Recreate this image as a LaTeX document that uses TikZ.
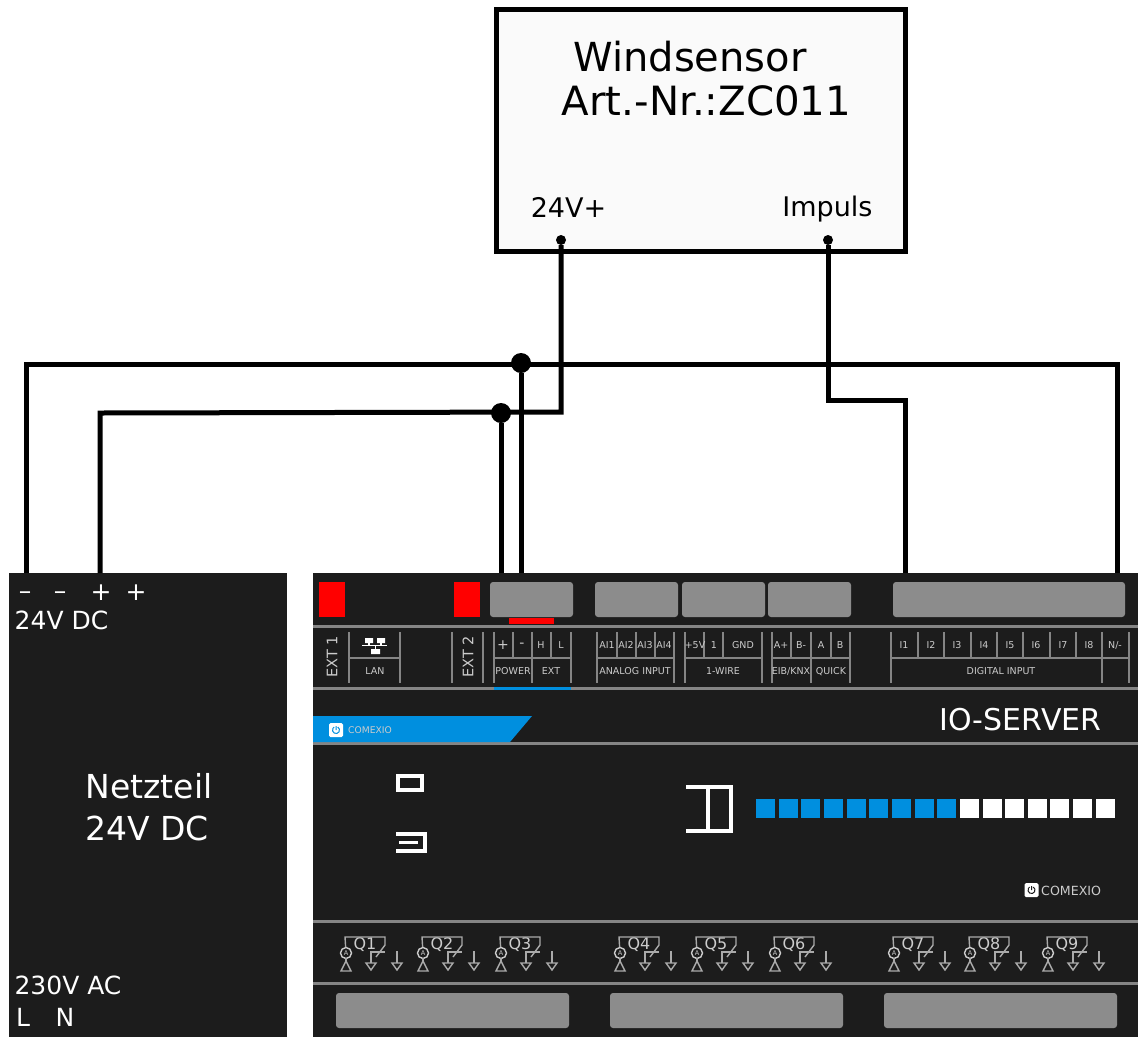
\documentclass[tikz,border=0pt]{standalone}
\usepackage{xcolor}
\usepackage{fontspec}
\setmainfont{DejaVu Sans}
\usetikzlibrary{positioning}
\usetikzlibrary{calc}
\definecolor{housing}{HTML}{1C1C1C}
\definecolor{slot}{HTML}{8C8C8C}
\definecolor{rule}{HTML}{858585}
\definecolor{ledblue}{HTML}{008FDF}
\definecolor{labelgrey}{HTML}{CCCCCC}
\tikzset{wire/.style={line width=5pt,black},
  joint/.style={circle,fill=black,inner sep=0pt,minimum size=20pt},
  pin/.style={circle,fill=black,inner sep=0pt,minimum size=10pt},
  housingbox/.style={fill=housing,draw=none},
  plug/.style={fill=slot,rounded corners=3pt},
  redblock/.style={fill=red},
  sep/.style={rule,line width=3pt},
  tick/.style={rule,line width=2pt},
  icon/.style={white,line width=4pt},
  qline/.style={rule!70!white,line width=1.4pt},
  big/.style={white,inner sep=0pt,font=\fontsize{#1}{#1}\selectfont},
  sensortext/.style={black,inner sep=0pt,font=\fontsize{#1}{#1}\selectfont},
  lbl/.style={labelgrey,inner sep=0pt,font=\fontsize{#1}{#1}\selectfont},
  lbl/.default=9.5}

\begin{document}
\begin{tikzpicture}[x=1pt,y=-1pt]
  \useasboundingbox (0,0) rectangle (1138,1037);

  % housings
  \fill[housingbox] (9,573) rectangle (287,1037);
  \fill[housingbox] (313,573) rectangle (1138,1037);

  % sensor
  \node[draw=black,line width=5pt,fill=black!2,inner sep=0pt,minimum width=409pt,minimum height=242pt] (sensor) at (700.5,130) {};
  \node[sensortext=40] (sname) at (690,57) {Windsensor};
  \node[sensortext=40.3] (sart) at (706.5,101) {Art.-Nr.:ZC011};
  \node[sensortext=27] (s24) at (568.5,207) {24V+};
  \node[sensortext=27] (simp) at (827.5,209) {Impuls};
  \node[pin] (pinplus) at (561,240) {};
  \node[pin] (pinimp) at (828,240) {};

  % power supply
  \foreach \x/\sign/\y/\name in {25/--/596/pa,60/--/596/pb,101/+/593/pc,136/+/593/pd} {
    \node[big=25] (\name) at (\x,\y) {\sign};
  }
  \node[big=25] (psuout) at (61.5,620) {24V DC};
  \node[big=33] (psua) at (149,786) {Netzteil};
  \node[big=33] (psub) at (147,828) {24V DC};
  \node[big=25] (psuin) at (68,985) {230V AC};
  \node[big=25] (psul) at (23,1017) {L};
  \node[big=25] (psun) at (65,1017) {N};

  % plugs along the top and bottom edges
  \fill[redblock] (319,582) rectangle (345,617);
  \fill[redblock] (454,582) rectangle (480,617);
  \fill[redblock] (509,618) rectangle (554,624);
  \foreach \xa/\xb in {490/573,595/678,682/765,768/851,893/1125} {
    \fill[plug] (\xa,582) rectangle (\xb,617);
  }
  \foreach \xa/\xb in {336/569,610/843,884/1117} {
    \fill[plug] (\xa,993) rectangle (\xb,1028);
  }

  % rules
  \foreach \y in {626,688,743,921,983} {
    \draw[sep] (313,\y) -- (1138,\y);
  }
  \draw[ledblue,line width=3pt] (494,688) -- (571,688);

  % terminal strip
  \foreach \x in {349,400,452,483,494,532,571,597,674,685,762,772,811,850,891,1102,1129} {
    \draw[tick] (\x,632) -- (\x,683);
  }
  \foreach \x in {513,551,617,636,655,704,723,791,831,918,944,971,997,1023,1050,1076} {
    \draw[tick] (\x,632) -- (\x,658);
  }
  \foreach \xa/\xb in {349/400,494/571,597/674,685/762,772/850,891/1129} {
    \draw[tick] (\xa,658) -- (\xb,658);
  }
  \node[lbl=14.5,rotate=90] (extone) at (332,657) {EXT 1};
  \node[lbl=14.5,rotate=90] (exttwo) at (468,657) {EXT 2};
  \node[lbl=14] (topplus) at (503,645) {+};
  \node[lbl=14] (topminus) at (522,645) {-};
  \foreach \x/\txt in {541/H,561/L,607/AI1,626/AI2,645/AI3,664/AI4,695/+5V,714/1,743/GND,781/A+,801/B-,821/A,840/B,
      904/I1,931/I2,957/I3,984/I4,1010/I5,1036/I6,1063/I7,1089/I8,1115/{N/-}} {
    \node[lbl] (top\x) at (\x,645) {\txt};
  }
  \foreach \x/\txt in {375/LAN,513/POWER,551/EXT,635/ANALOG INPUT,723/1-WIRE,791/{EIB/KNX},831/QUICK,1001/DIGITAL INPUT} {
    \node[lbl] (low\x) at (\x,671.5) {\txt};
  }
  % network symbol
  \fill[white] (365,638) rectangle (373,643) (377,638) rectangle (385,643) (371,649) rectangle (380,654);
  \draw[white,line width=1.2pt] (362,645.5) -- (387,645.5) (369,643) -- (369,645.5) (381,643) -- (381,645.5) (375.5,645.5) -- (375.5,649);

  % brand strip
  \fill[ledblue] (313,716) -- (532,716) -- (510,742) -- (313,742) -- cycle;
  \node[fill=white,rounded corners=1.5pt,minimum size=14pt,inner sep=0pt] (logoa) at (336,730) {};
  \draw[ledblue,line width=1pt] (336,726) -- (336,730) (337.75,727) arc (300:600:3.5);
  \node[labelgrey,inner sep=0pt,font=\fontsize{9.2}{9.2}\selectfont,anchor=west] (logotxta) at (348,730.5) {COMEXIO};
  \node[big=30] (server) at (1020.5,720) {IO-SERVER};

  \node[fill=white,rounded corners=1.5pt,minimum size=14pt,inner sep=0pt] (logob) at (1031.5,890) {};
  \draw[housing,line width=1pt] (1031.5,886) -- (1031.5,890) (1033.25,887) arc (300:600:3.5);
  \node[labelgrey,inner sep=0pt,font=\fontsize{12.6}{12.6}\selectfont,anchor=west] (logotxtb) at (1041,890.5) {COMEXIO};

  % front icons
  \draw[icon] (398,776) rectangle (421.5,790);
  \draw[icon] (396,834) -- (425,834) -- (425,850.5) -- (396,850.5);
  \draw[icon,line width=3pt] (399,842) -- (418,842);
  \draw[icon] (686,786.5) -- (731,786.5) -- (731,831) -- (686,831);
  \draw[icon] (708,786.5) -- (708,831);

  % leds
  \foreach \i in {0,...,15} {
    \pgfmathsetmacro{\xl}{756+\i*22.65}
    \ifnum\i<9 \fill[ledblue] (\xl,799) rectangle ++(19,19);
    \else \fill[white] (\xl,799) rectangle ++(19,19); \fi
  }

  % relay outputs
  \foreach \dx/\num in {0/1,77/2,155/3,274/4,351/5,429/6,548/7,624/8,702/9} {
    \begin{scope}[xshift=\dx pt]
      \node[lbl=16] (q\num) at (365,945) {Q\num};
      \node[draw=rule!70!white,line width=1.4pt,circle,inner sep=0pt,minimum size=11pt,lbl=6.5] (qa\num) at (346,953) {A};
      \draw[qline] (qa\num) -- (345,937) -- (385,937) -- (385,945) -- (376,957);
      \draw[qline] (385,952) -- (371,952) -- (371,963);
      \draw[qline] (397,951) -- (397,963);
      \draw[qline] (346,958) -- (346,961);
      \draw[qline] (346,961) -- (341,971) -- (351,971) -- cycle;
      \draw[qline] (366,963) -- (376,963) -- (371,970) -- cycle;
      \draw[qline] (392,963) -- (402,963) -- (397,970) -- cycle;
    \end{scope}
  }

  % wiring
  \coordinate (psuminus) at (26,573);
  \coordinate (psuplus) at (100,573);
  \coordinate (srvplus) at (501,573);
  \coordinate (srvminus) at (521,573);
  \coordinate (srvimp) at (905,573);
  \coordinate (srvneg) at (1117,573);
  \coordinate (topleft) at (26,364);
  \coordinate (topright) at (1117,364);
  \coordinate (lowleft) at (100,413);
  \coordinate (lowright) at (561,412);
  \coordinate (impa) at (828,400);
  \coordinate (impb) at (905,400);
  \node[joint] (jminus) at (521,363) {};
  \node[joint] (jplus) at (501,413) {};
  \draw[wire] (psuminus) -- (topleft) -- (topright) -- (srvneg);
  \draw[wire] (jminus) -- (srvminus);
  \draw[wire] (psuplus) -- (lowleft) -- (lowright) -- (pinplus);
  \draw[wire] (jplus) -- (srvplus);
  \draw[wire] (pinimp) -- (impa) -- (impb) -- (srvimp);

\end{tikzpicture}
\end{document}
